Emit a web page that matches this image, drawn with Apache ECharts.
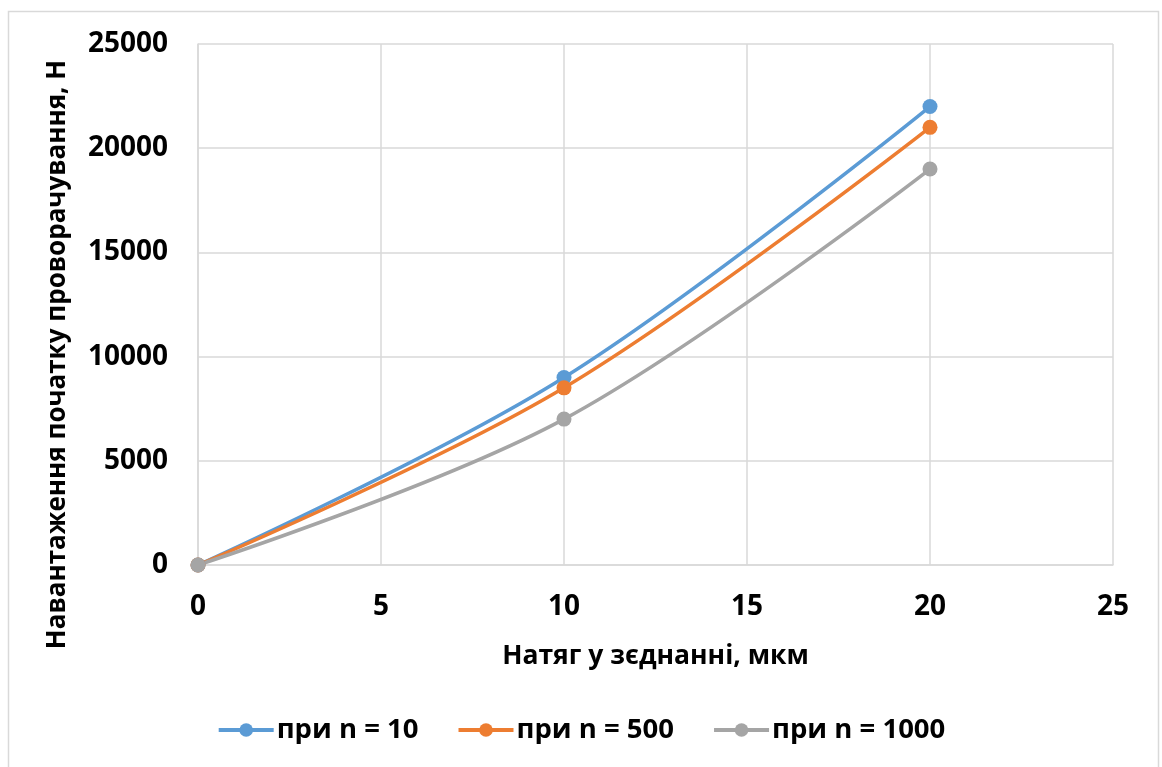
<!DOCTYPE html>
<html><head><meta charset="utf-8">
<script src="https://cdn.jsdelivr.net/npm/echarts@6/dist/echarts.min.js"></script>
<style>html,body{margin:0;padding:0;background:#fff}#c{width:1162px;height:767px}</style>
</head><body><div id="c"></div>
<script>
const xValues = [0, 10, 20];
const seriesNames = ['при n = 10', 'при n = 500', 'при n = 1000'];
const n10 = [0, 9000, 22000];
const n500 = [0, 8500, 21000];
const n1000 = [0, 7000, 19000];
const colors = ['#5B9BD5', '#ED7D31', '#A5A5A5'];
const xTitle = 'Натяг у зєднанні, мкм';
const yTitle = 'Навантаження початку проворачування, Н';

const FONT = 'Open Sans';
const chart = echarts.init(document.getElementById('c'));
function mk(name, vals, color) {
  return {
    name: name, type: 'line', smooth: 0.35,
    data: xValues.map((x, i) => [x, vals[i]]),
    symbol: 'circle', symbolSize: 15,
    lineStyle: { color: color, width: 3.5 },
    itemStyle: { color: color },
    z: 3
  };
}
chart.setOption({
  animation: false,
  backgroundColor: '#fff',
  graphic: [{
    type: 'rect', shape: { x: 8.5, y: 11.5, width: 1150, height: 800 },
    style: { fill: 'none', stroke: '#d9d9d9', lineWidth: 1.5 }, silent: true, z: -1
  }],
  grid: { left: 198, right: 49, top: 44, bottom: 202, containLabel: false },
  xAxis: {
    type: 'value', min: 0, max: 25, interval: 5,
    name: xTitle, nameLocation: 'middle', nameGap: 78,
    nameTextStyle: { fontFamily: FONT, fontWeight: 'bold', fontSize: 26.5, color: '#000' },
    axisLine: { show: true, lineStyle: { color: '#d9d9d9', width: 1.5 } },
    axisTick: { show: false },
    splitLine: { show: true, lineStyle: { color: '#d9d9d9', width: 1.5 } },
    axisLabel: { fontFamily: FONT, fontWeight: 'bold', fontSize: 28, color: '#000', margin: 28 }
  },
  yAxis: {
    type: 'value', min: 0, max: 25000, interval: 5000,
    name: yTitle, nameLocation: 'middle', nameGap: 127, nameRotate: 90,
    nameTextStyle: { fontFamily: FONT, fontWeight: 'bold', fontSize: 26, color: '#000', padding: [0, 100, 0, 0] },
    axisLine: { show: true, lineStyle: { color: '#d9d9d9', width: 1.5 } },
    axisTick: { show: false },
    splitLine: { show: true, lineStyle: { color: '#d9d9d9', width: 1.5 } },
    axisLabel: { fontFamily: FONT, fontWeight: 'bold', fontSize: 28, color: '#000', margin: 30,
      formatter: v => String(v) }
  },
  legend: {
    bottom: 18, left: 'center', itemWidth: 55, itemHeight: 17, itemGap: 38,
    data: seriesNames,
    lineStyle: { width: 4 },
    textStyle: { fontFamily: FONT, fontWeight: 'bold', fontSize: 27.5, color: '#000', padding: [0, 0, 0, -2] }
  },
  series: [mk(seriesNames[0], n10, colors[0]), mk(seriesNames[1], n500, colors[1]), mk(seriesNames[2], n1000, colors[2])]
});
</script></body></html>
